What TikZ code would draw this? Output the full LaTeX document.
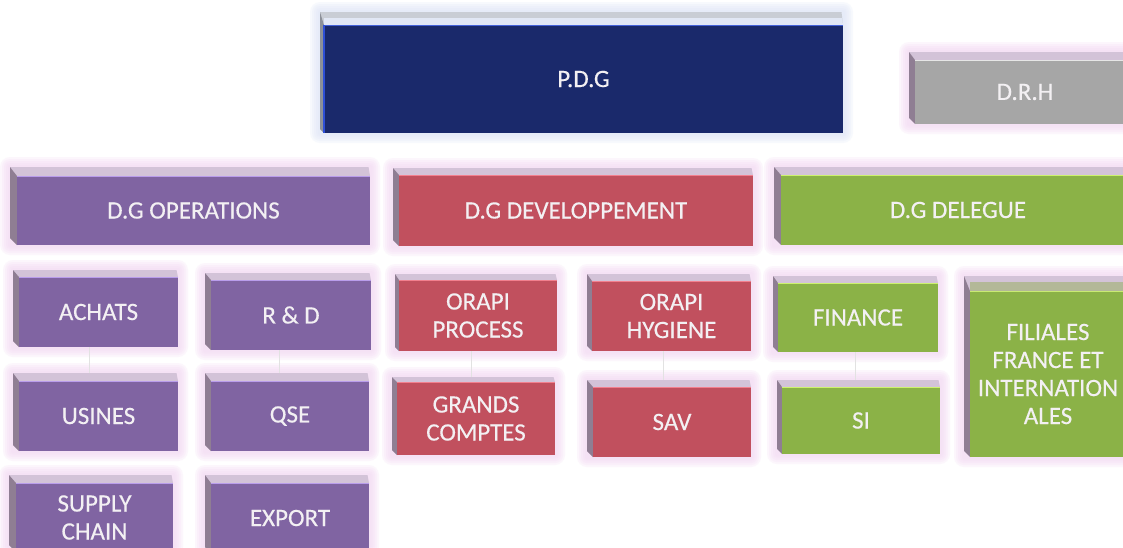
\documentclass[tikz,border=0pt]{standalone}
\usepackage{fontspec}
\setmainfont{Carlito}
\newfontfamily\boxfont{Carlito}[FakeBold=0.35]
\definecolor{purpleface}{HTML}{8064A2}
\definecolor{purpletop}{HTML}{D3C3D8}
\definecolor{purpleside}{HTML}{8F7E93}
\definecolor{purplehl}{HTML}{B99DEB}
\definecolor{redface}{HTML}{C1505E}
\definecolor{redtop}{HTML}{D3C3D8}
\definecolor{redside}{HTML}{8F7E93}
\definecolor{redhl}{HTML}{F2808E}
\definecolor{greenface}{HTML}{8BB247}
\definecolor{greentop}{HTML}{D3C3D8}
\definecolor{greenside}{HTML}{8F7E93}
\definecolor{greenhl}{HTML}{CDF26E}
\definecolor{grayface}{HTML}{A6A6A6}
\definecolor{graytop}{HTML}{D3C3D8}
\definecolor{grayside}{HTML}{8F7E93}
\definecolor{grayhl}{HTML}{E6E6E6}
\definecolor{navyface}{HTML}{1A296B}
\definecolor{navytop}{HTML}{C9CDD5}
\definecolor{navyside}{HTML}{8C9099}
\definecolor{navyhl}{HTML}{2E4FD6}
\definecolor{navylight}{HTML}{E1E7F5}
\definecolor{khaki}{HTML}{B3B898}
\definecolor{glowpink}{HTML}{F3D8F3}
\definecolor{glowblue}{HTML}{DFE6F8}
\definecolor{txt}{HTML}{F3F0F3}
\definecolor{connline}{HTML}{E2E2E2}
\pgfdeclarelayer{glow}
\pgfdeclarelayer{lines}
\pgfsetlayers{glow,lines,main}
\tikzset{
  orgnode/.style={inner sep=0pt, outer sep=0pt, text=txt, align=center,
    font=\boxfont\fontsize{25}{28}\selectfont},
  conn/.style={draw=connline, line width=0.6pt}
}
% #1 name, #2 L, #3 T, #4 R, #5 B, #6 dx, #7 dy, #8 scheme, #9 text
\newcommand\orgbox[9]{%
  \begin{pgfonlayer}{glow}
    \foreach \g in {10,8,6,4,2}{%
      \fill[#8glow, opacity=0.22, rounded corners=\g pt] (#2-#6-\g,#3-#7-\g) rectangle (#4+\g,#5+\g);
    }%
  \end{pgfonlayer}
  \fill[#8top] (#2-#6,#3-#7) -- (#4-1.5,#3-#7) -- (#4,#3) -- (#2,#3) -- cycle;
  \fill[#8side] (#2-#6,#3-#7) -- (#2,#3) -- (#2,#5) -- (#2-#6,#5-#6) -- cycle;
  \pgfmathsetmacro\bw{#4-#2}%
  \pgfmathsetmacro\bh{#5-#3}%
  \node[orgnode, fill=#8face, minimum width=\bw pt, minimum height=\bh pt]
    (#1) at ({(#2+#4)/2},{(#3+#5)/2}) {#9};
  \draw[#8hl, line width=1.3pt] (#2,#3+0.7) -- (#4,#3+0.7);
}
\colorlet{purpleglow}{glowpink}
\colorlet{redglow}{glowpink}
\colorlet{greenglow}{glowpink}
\colorlet{grayglow}{glowpink}
\colorlet{navyglow}{glowblue}
\begin{document}
\begin{tikzpicture}[x=1pt,y=-1pt]
\useasboundingbox (0,0) rectangle (1123,547);
\begin{pgfonlayer}{glow}
\fill[white] (0,0) rectangle (1123,547);
\end{pgfonlayer}
\clip (0,0) rectangle (1123,547);

% top level
\orgbox{pdg}{324}{25}{843}{133}{4}{13}{navy}{P.D.G}
\fill[navylight] (324,18) -- (842,18) -- (843,25) -- (324,25) -- cycle;
\fill[navyhl] (322.5,25) rectangle (324.5,133);
\orgbox{drh}{915}{60}{1135}{124}{6}{8}{gray}{D.R.H}

% second level
\orgbox{dgop}{17}{176}{370}{245}{7}{9}{purple}{D.G OPERATIONS}
\orgbox{dgdev}{399}{175}{753}{246}{6}{7}{red}{D.G DEVELOPPEMENT}
\orgbox{dgdel}{781}{175}{1135}{245}{7}{8}{green}{D.G DELEGUE}

% operations
\orgbox{achats}{19}{277}{178}{347}{6}{7}{purple}{ACHATS}
\orgbox{rd}{211}{280}{371}{350}{6}{7}{purple}{R \& D}
\orgbox{usines}{19}{381}{178}{451}{6}{8}{purple}{USINES}
\orgbox{qse}{211}{381}{369}{451}{6}{8}{purple}{QSE}
\orgbox{supply}{16}{483}{173}{552}{7}{8}{purple}{SUPPLY\\CHAIN}
\orgbox{export}{211}{483}{369}{553}{6}{8}{purple}{EXPORT}

% developpement
\orgbox{process}{399}{280}{557}{351}{4}{6}{red}{ORAPI\\PROCESS}
\orgbox{grands}{397}{382}{555}{455}{5}{5}{red}{GRANDS\\COMPTES}
\orgbox{hygiene}{592}{281}{751}{351}{5}{7}{red}{ORAPI\\HYGIENE}
\orgbox{sav}{593}{387}{751}{457}{6}{7}{red}{SAV}

% delegue
\orgbox{finance}{778}{283}{938}{352}{5}{7}{green}{FINANCE}
\orgbox{si}{782}{387}{940}{454}{5}{7}{green}{SI}
\orgbox{filiales}{970}{291}{1126}{457}{6}{15}{green}{FILIALES\\FRANCE ET\\INTERNATION\\ALES}
\fill[khaki] (970,282) -- (1124.5,282) -- (1126,291) -- (970,291) -- cycle;

% faint connectors
\begin{pgfonlayer}{lines}
\draw[conn] ([xshift=-9pt]achats.south) -- ([xshift=-9pt]achats.south |- usines.north);
\draw[conn] ([xshift=-12pt]rd.south) -- ([xshift=-12pt]rd.south |- qse.north);
\draw[conn] ([xshift=-7pt]process.south) -- ([xshift=-7pt]process.south |- grands.north);
\draw[conn] ([xshift=-8pt]hygiene.south) -- ([xshift=-8pt]hygiene.south |- sav.north);
\draw[conn] ([xshift=-3pt]finance.south) -- ([xshift=-3pt]finance.south |- si.north);
\end{pgfonlayer}
\end{tikzpicture}
\end{document}
